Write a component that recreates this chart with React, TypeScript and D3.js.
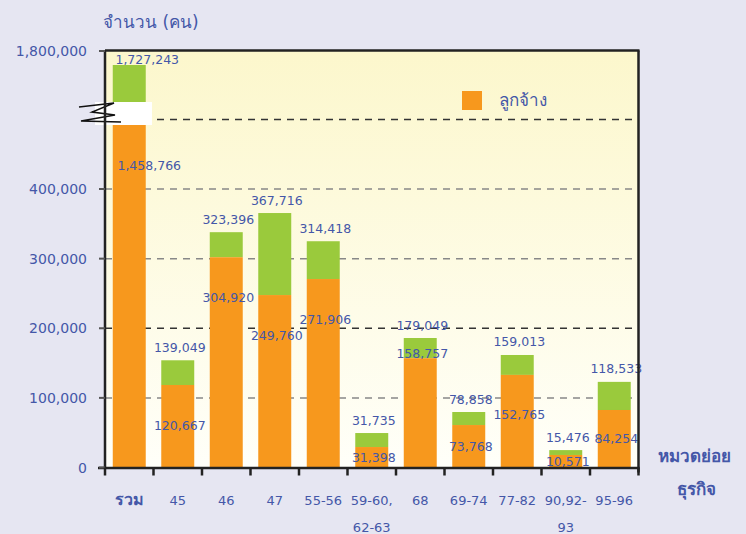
import React, { useEffect, useRef } from 'react';
import * as d3 from 'd3';

// categories (second line after \n)
const categories = ['รวม', '45', '46', '47', '55-56', '59-60,\n62-63', '68', '69-74', '77-82', '90,92-\n93', '95-96'];
// bar heights
const employees = [1458766, 118500, 302000, 247700, 270700, 29400, 157000, 61000, 133000, 18000, 82600];
const totals = [1727243, 154000, 338000, 365500, 325000, 49500, 186000, 79700, 161600, 25000, 123000];
// printed value labels
const topLabels = [1727243, 139049, 323396, 367716, 314418, 31735, 179049, 78858, 159013, 15476, 118533];
const innerLabels = [1458766, 120667, 304920, 249760, 271906, 31398, 158757, 73768, 152765, 10571, 84254];
const yTicks = [0, 100000, 200000, 300000, 400000, 1800000];
const gridValues = [100000, 200000, 300000, 400000, 500000];

const W = 746;
const H = 534;
const blue = '#4457a8';
const font = 'DejaVu Sans, Noto Sans, sans-serif';

const App = () => {
  const ref = useRef<SVGSVGElement>(null);

  useEffect(() => {
    const svg = d3.select(ref.current);
    svg.selectAll('*').remove();

    const left = 105, right = 638.5, top = 50.5, base = 467.5;
    const breakTop = 102, breakBottom = 125;

    // broken axis: lower part 0..500k, upper part 1.535M..1.8M
    const y = d3.scaleLinear()
      .domain([0, 500000, 1535000, 1800000])
      .range([base, 119.4, breakTop, 51]);
    const x = d3.scaleBand()
      .domain(categories)
      .range([left, right])
      .paddingInner(0.32)
      .paddingOuter(0.16);
    const fmt = d3.format(',');

    svg.append('rect').attr('width', W).attr('height', H).attr('fill', '#e6e6f2');

    const defs = svg.append('defs');
    const grad = defs.append('linearGradient').attr('id', 'bg').attr('x1', 0).attr('x2', 0).attr('y1', 0).attr('y2', 1);
    grad.append('stop').attr('offset', '0%').attr('stop-color', '#fcf7cc');
    grad.append('stop').attr('offset', '100%').attr('stop-color', '#fffff9');

    svg.append('rect')
      .attr('x', left).attr('y', top)
      .attr('width', right - left).attr('height', base - top)
      .attr('fill', 'url(#bg)');

    // grid
    svg.selectAll('.grid').data(gridValues).enter().append('line')
      .attr('x1', left).attr('x2', right)
      .attr('y1', (d) => y(d)).attr('y2', (d) => y(d))
      .attr('stroke', (d) => (d === 200000 || d === 500000 ? '#333' : '#888'))
      .attr('stroke-width', 1.5)
      .attr('stroke-dasharray', '7,6');

    // bars
    const bars = svg.selectAll('.bar').data(categories).enter().append('g');
    bars.append('rect')
      .attr('x', (d) => x(d)!)
      .attr('width', x.bandwidth())
      .attr('y', (d, i) => y(totals[i]))
      .attr('height', (d, i) => y(employees[i]) - y(totals[i]))
      .attr('fill', '#9aca3c');
    bars.append('rect')
      .attr('x', (d) => x(d)!)
      .attr('width', x.bandwidth())
      .attr('y', (d, i) => y(employees[i]))
      .attr('height', (d, i) => base - y(employees[i]))
      .attr('fill', '#f7981d');

    // axis break
    svg.append('rect')
      .attr('x', 95).attr('y', breakTop)
      .attr('width', 57).attr('height', breakBottom - breakTop)
      .attr('fill', '#fff');
    svg.append('path')
      .attr('d', 'M79,107 L114,103 L92,112 L115,115 L81,121 L121,122')
      .attr('fill', 'none').attr('stroke', '#111').attr('stroke-width', 1.5);

    // value labels
    bars.append('text')
      .text((d, i) => fmt(topLabels[i]))
      .attr('x', (d, i) => x(d)! + x.bandwidth() / 2 + (i === 0 ? 18 : 2))
      .attr('y', (d, i) => Math.max(y(totals[i]) - 13, 59) + 4.5)
      .attr('text-anchor', 'middle')
      .attr('font-family', font).attr('font-size', 12.5).attr('fill', blue);
    bars.append('text')
      .text((d, i) => fmt(innerLabels[i]))
      .attr('x', (d, i) => x(d)! + x.bandwidth() / 2 + (i === 0 ? 20 : 2))
      .attr('y', (d, i) => {
        const t = i === 0 ? breakBottom : y(employees[i]);
        // labels that would crowd the neighbour's top label sit at the split
        const v = Math.min(t + 40, (t + base) / 2);
        return (i < categories.length - 1 && v > y(totals[i + 1]) - 22 && v < y(totals[i + 1]) && t < y(totals[i + 1]) - 30 ? t - 5 : v) + 4.5;
      })
      .attr('text-anchor', 'middle')
      .attr('font-family', font).attr('font-size', 12.5).attr('fill', blue);

    // frame
    svg.append('line').attr('x1', left).attr('x2', left).attr('y1', top).attr('y2', base + 1)
      .attr('stroke', '#222').attr('stroke-width', 2.5);
    svg.append('line').attr('x1', left).attr('x2', right + 1).attr('y1', top).attr('y2', top)
      .attr('stroke', '#222').attr('stroke-width', 2.5);
    svg.append('line').attr('x1', right).attr('x2', right).attr('y1', top).attr('y2', base + 5)
      .attr('stroke', '#222').attr('stroke-width', 2.5);
    svg.append('line').attr('x1', 98).attr('x2', right + 1).attr('y1', base + 0.5).attr('y2', base + 0.5)
      .attr('stroke', '#222').attr('stroke-width', 2.5);

    // y ticks and labels
    const yt = svg.selectAll('.yt').data(yTicks).enter().append('g');
    yt.append('line')
      .attr('x1', 99).attr('x2', left)
      .attr('y1', (d) => y(d)).attr('y2', (d) => y(d))
      .attr('stroke', '#555').attr('stroke-width', 2);
    yt.append('text')
      .text((d) => fmt(d))
      .attr('x', 87).attr('y', (d) => y(d) + 5)
      .attr('text-anchor', 'end')
      .attr('font-family', font).attr('font-size', 14).attr('fill', blue);

    // x ticks
    const edges = d3.range(categories.length + 1).map((i) => left + i * x.step());
    svg.selectAll('.xt').data(edges).enter().append('line')
      .attr('x1', (d) => d).attr('x2', (d) => d)
      .attr('y1', base).attr('y2', base + 8)
      .attr('stroke', '#222').attr('stroke-width', 2.5);

    // category labels
    const cl = svg.selectAll('.cl').data(categories).enter().append('text')
      .attr('text-anchor', 'middle')
      .attr('font-family', font)
      .attr('font-size', (d, i) => (i === 0 ? 16 : 13))
      .attr('font-weight', (d, i) => (i === 0 ? 'bold' : 'normal'))
      .attr('fill', blue);
    cl.selectAll('tspan').data((d) => d.split('\n').map((s) => ({ s, c: d }))).enter().append('tspan')
      .attr('x', (d) => x(d.c)! + x.bandwidth() / 2)
      .attr('y', (d, j) => 505 + j * 27)
      .text((d) => d.s);

    // titles
    svg.append('text').text('จำนวน (คน)')
      .attr('x', 103).attr('y', 28)
      .attr('font-family', font).attr('font-size', 17).attr('fill', blue);
    svg.append('text').text('หมวดย่อย')
      .attr('x', 658).attr('y', 462)
      .attr('font-family', font).attr('font-size', 17).attr('font-weight', 'bold').attr('fill', blue);
    svg.append('text').text('ธุรกิจ')
      .attr('x', 677).attr('y', 495)
      .attr('font-family', font).attr('font-size', 17).attr('font-weight', 'bold').attr('fill', blue);

    // legend
    svg.append('rect').attr('x', 462).attr('y', 91).attr('width', 20).attr('height', 19).attr('fill', '#f7981d');
    svg.append('text').text('ลูกจ้าง')
      .attr('x', 499).attr('y', 106)
      .attr('font-family', font).attr('font-size', 17).attr('fill', blue);
  }, []);

  return (
    <svg ref={ref} width={W} height={H} style={{ position: 'absolute', left: 0, top: 0 }} />
  );
};

export default App;
